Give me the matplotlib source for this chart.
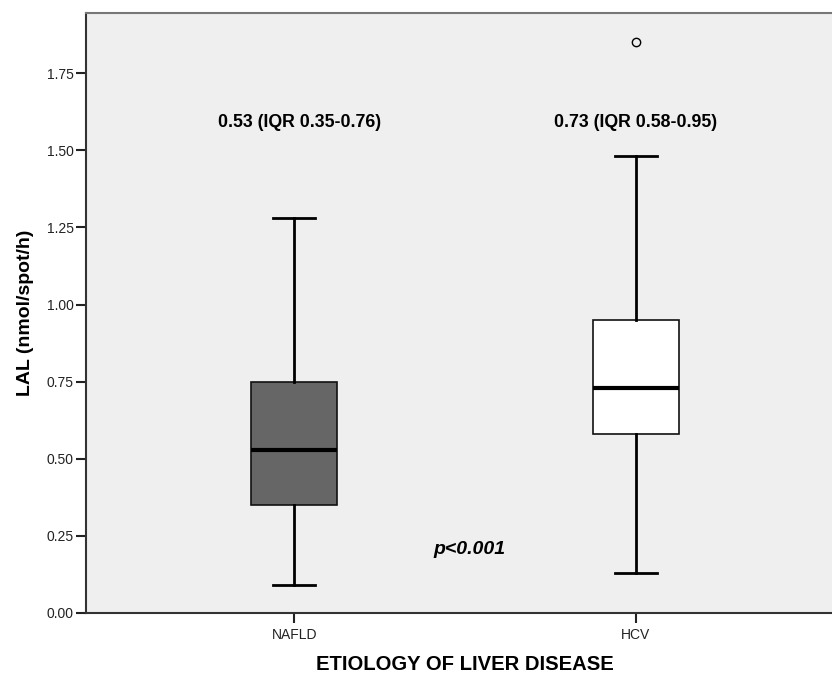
import matplotlib
matplotlib.use("Agg")
import matplotlib.pyplot as plt

plt.rcParams['font.family'] = ['Liberation Sans', 'DejaVu Sans']

# box plot summary values
groups = ["NAFLD", "HCV"]
medians = [0.53, 0.73]
q1 = [0.35, 0.58]
q3 = [0.75, 0.95]
whisk_lo = [0.09, 0.13]
whisk_hi = [1.28, 1.48]
outliers = [[], [1.85]]
box_colors = ["#666666", "#ffffff"]
iqr_labels = ["0.53 (IQR 0.35-0.76)", "0.73 (IQR 0.58-0.95)"]
yticks = [0.00, 0.25, 0.50, 0.75, 1.00, 1.25, 1.50, 1.75]

stats = []
for i, g in enumerate(groups):
    stats.append(dict(label=g, med=medians[i], q1=q1[i], q3=q3[i],
                      whislo=whisk_lo[i], whishi=whisk_hi[i], fliers=outliers[i]))

fig = plt.figure(figsize=(8.32, 6.73), dpi=100)
ax = fig.add_axes([86 / 832, 60 / 673, 758 / 832, 600 / 673])
ax.set_facecolor("#efefef")

bp = ax.bxp(stats, positions=[1, 2], widths=0.25, patch_artist=True,
            showfliers=True, capwidths=0.125,
            boxprops=dict(linewidth=1.2, edgecolor="#111111"),
            medianprops=dict(color="black", linewidth=3),
            whiskerprops=dict(color="black", linewidth=2),
            capprops=dict(color="black", linewidth=2),
            flierprops=dict(marker="o", markersize=6, markerfacecolor="none",
                            markeredgecolor="black", markeredgewidth=1))
for patch, c in zip(bp["boxes"], box_colors):
    patch.set_facecolor(c)

# annotations (NAFLD one sits a touch right of its box in the original)
ax.text(1.015, 1.59, iqr_labels[0], ha="center", va="center",
        fontsize=12.8, fontweight="bold")
ax.text(2.0, 1.59, iqr_labels[1], ha="center", va="center",
        fontsize=12.8, fontweight="bold")
ax.text(1.514, 0.205, "p<0.001", ha="center", va="center",
        fontsize=14, fontweight="bold", style="italic")

ax.set_xlim(0.391, 2.609)
ax.set_ylim(0, 1.945)
ax.set_yticks(yticks)
ax.set_yticklabels(["%.2f" % v for v in yticks])
ax.set_xticks([1, 2])
ax.set_xticklabels(groups)
ax.tick_params(axis="y", direction="out", length=7, width=1.5, pad=2,
               labelsize=10, colors="#222222")
ax.tick_params(axis="x", direction="out", length=7, width=1.5, pad=4,
               labelsize=10, colors="#222222")

for s in ["left", "bottom"]:
    ax.spines[s].set_color("#333333")
    ax.spines[s].set_linewidth(1.5)
ax.spines["top"].set_color("#777777")
ax.spines["top"].set_linewidth(1.5)
ax.spines["right"].set_visible(False)

ax.set_ylabel("LAL (nmol/spot/h)", fontsize=14, fontweight="bold")
ax.yaxis.set_label_coords(-0.068, 0.5)
ax.set_xlabel("ETIOLOGY OF LIVER DISEASE", fontsize=14.6, fontweight="bold")
ax.xaxis.set_label_coords(0.5, -0.07)

fig.savefig("out.png", dpi=100)
